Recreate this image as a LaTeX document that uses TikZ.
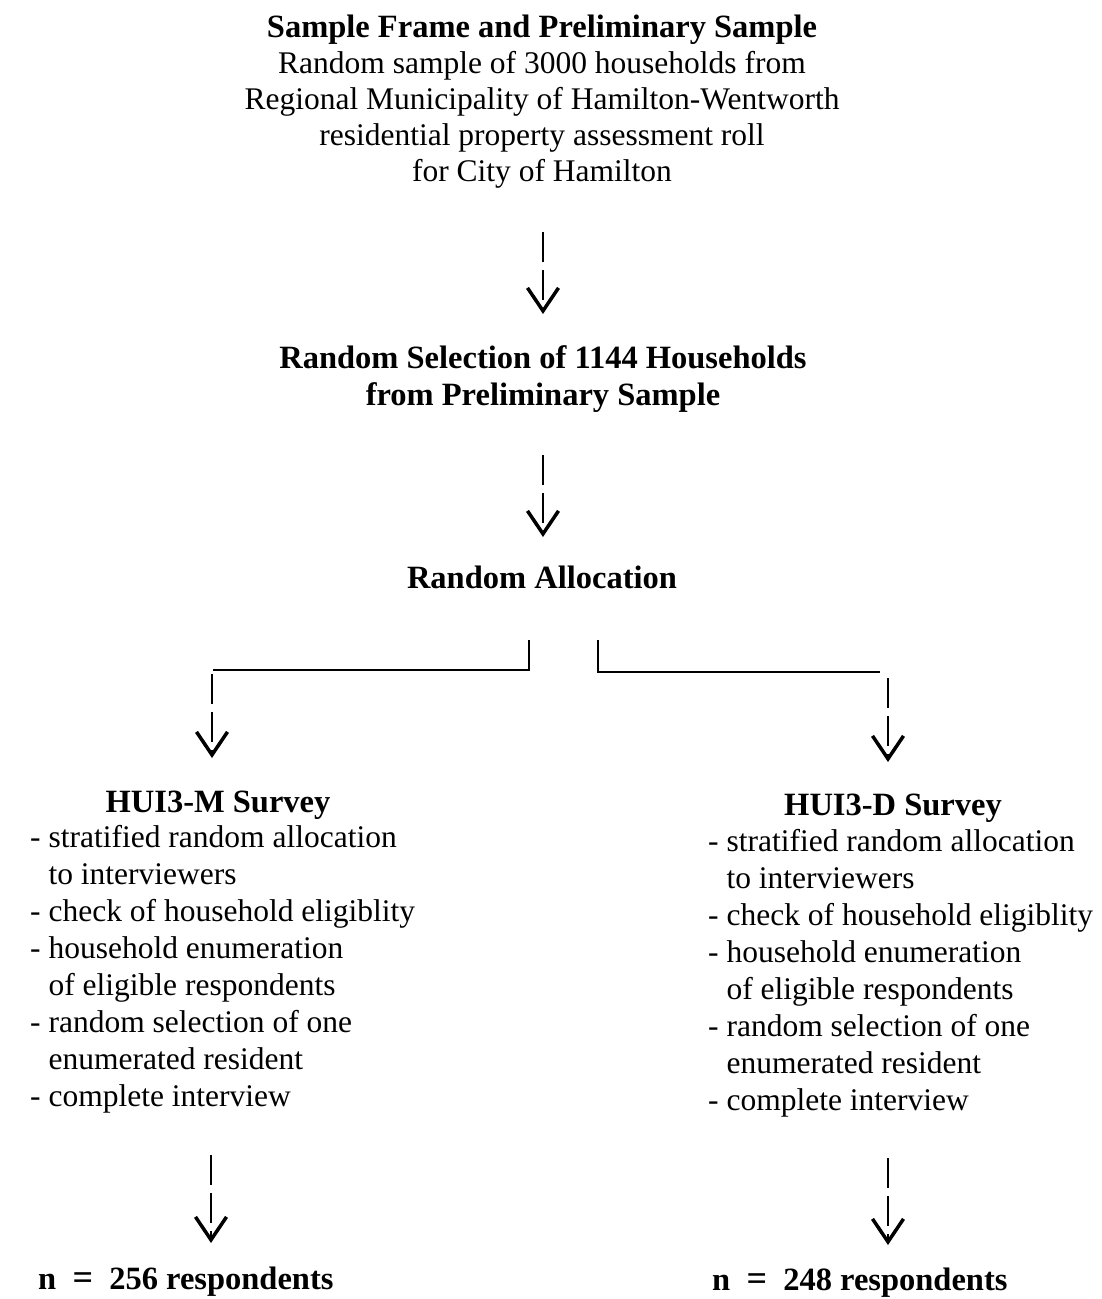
\documentclass[tikz,border=0pt]{standalone}
\usepackage{fontspec}
\setmainfont{Liberation Serif}
\usetikzlibrary{arrows.meta}
\begin{document}
\begin{tikzpicture}[x=1pt,y=-1pt,
  txt/.style={inner sep=0pt, font=\fontsize{31.5}{36}\selectfont},
  hd/.style={txt, font=\fontsize{32.5}{36.5}\selectfont\bfseries},
  lst/.style={txt, align=left, font=\fontsize{31.5}{36.9}\selectfont},
  flow/.style={line width=2pt, dash pattern=on 30pt off 8pt,
    -{Straight Barb[length=23pt,width=31pt,line width=3.5pt]}},
  split/.style={line width=2pt}]
\useasboundingbox (0,0) rectangle (1102,1299);

% sampling stages (multi-line nodes are anchored at their last baseline)
\node[txt, align=center, anchor=base] (frame) at (542,181)
  {{\fontsize{32.5}{36}\selectfont\bfseries Sample Frame and Preliminary Sample}\\
   Random sample of 3000 households from\\
   Regional Municipality of Hamilton-Wentworth\\
   residential property assessment roll\\
   for City of Hamilton};
\node[hd, align=center, anchor=base] (select) at (543,405)
  {Random Selection of 1144 Households\\ from Preliminary Sample};
\node[hd, anchor=base] (alloc) at (542,588) {Random Allocation};

% the two survey arms
\node[hd, anchor=base] (hm) at (218,812) {HUI3-M Survey};
\node[lst, anchor=base west] (lm) at (30,1106)
  {- stratified random allocation\\
   \hphantom{- }to interviewers\\
   - check of household eligiblity\\
   - household enumeration\\
   \hphantom{- }of eligible respondents\\
   - random selection of one\\
   \hphantom{- }enumerated resident\\
   - complete interview};
\node[hd, anchor=base] (hd) at (893,815) {HUI3-D Survey};
\node[lst, anchor=base west] (ld) at (708,1110)
  {- stratified random allocation\\
   \hphantom{- }to interviewers\\
   - check of household eligiblity\\
   - household enumeration\\
   \hphantom{- }of eligible respondents\\
   - random selection of one\\
   \hphantom{- }enumerated resident\\
   - complete interview};

\node[hd, anchor=base west] (nm) at (38,1289)
  {n\hspace{0.5em}{\fontsize{36}{36}\selectfont=}\hspace{0.5em}256 respondents};
\node[hd, anchor=base west] (nd) at (712,1290)
  {n\hspace{0.5em}{\fontsize{36}{36}\selectfont=}\hspace{0.5em}248 respondents};

% connector end points
\coordinate (a1) at (543,232);  \coordinate (b1) at (543,314);
\coordinate (a2) at (543,455);  \coordinate (b2) at (543,537);
\coordinate (la) at (529,640);  \coordinate (lb) at (529,670);
\coordinate (lc) at (213,670);
\coordinate (ra) at (598,640);  \coordinate (rb) at (598,672);
\coordinate (rc) at (880,672);
\coordinate (a3) at (212,674);  \coordinate (b3) at (212,758);
\coordinate (a4) at (888,678);  \coordinate (b4) at (888,762);
\coordinate (a5) at (211,1155); \coordinate (b5) at (211,1243);
\coordinate (a6) at (888,1158); \coordinate (b6) at (888,1245);

\draw[flow] (a1) -- (b1);
\draw[flow] (a2) -- (b2);
\draw[split] (la) -- (lb) -- (lc);
\draw[split] (ra) -- (rb) -- (rc);
\draw[flow] (a3) -- (b3);
\draw[flow] (a4) -- (b4);
\draw[flow] (a5) -- (b5);
\draw[flow] (a6) -- (b6);
\end{tikzpicture}
\end{document}
